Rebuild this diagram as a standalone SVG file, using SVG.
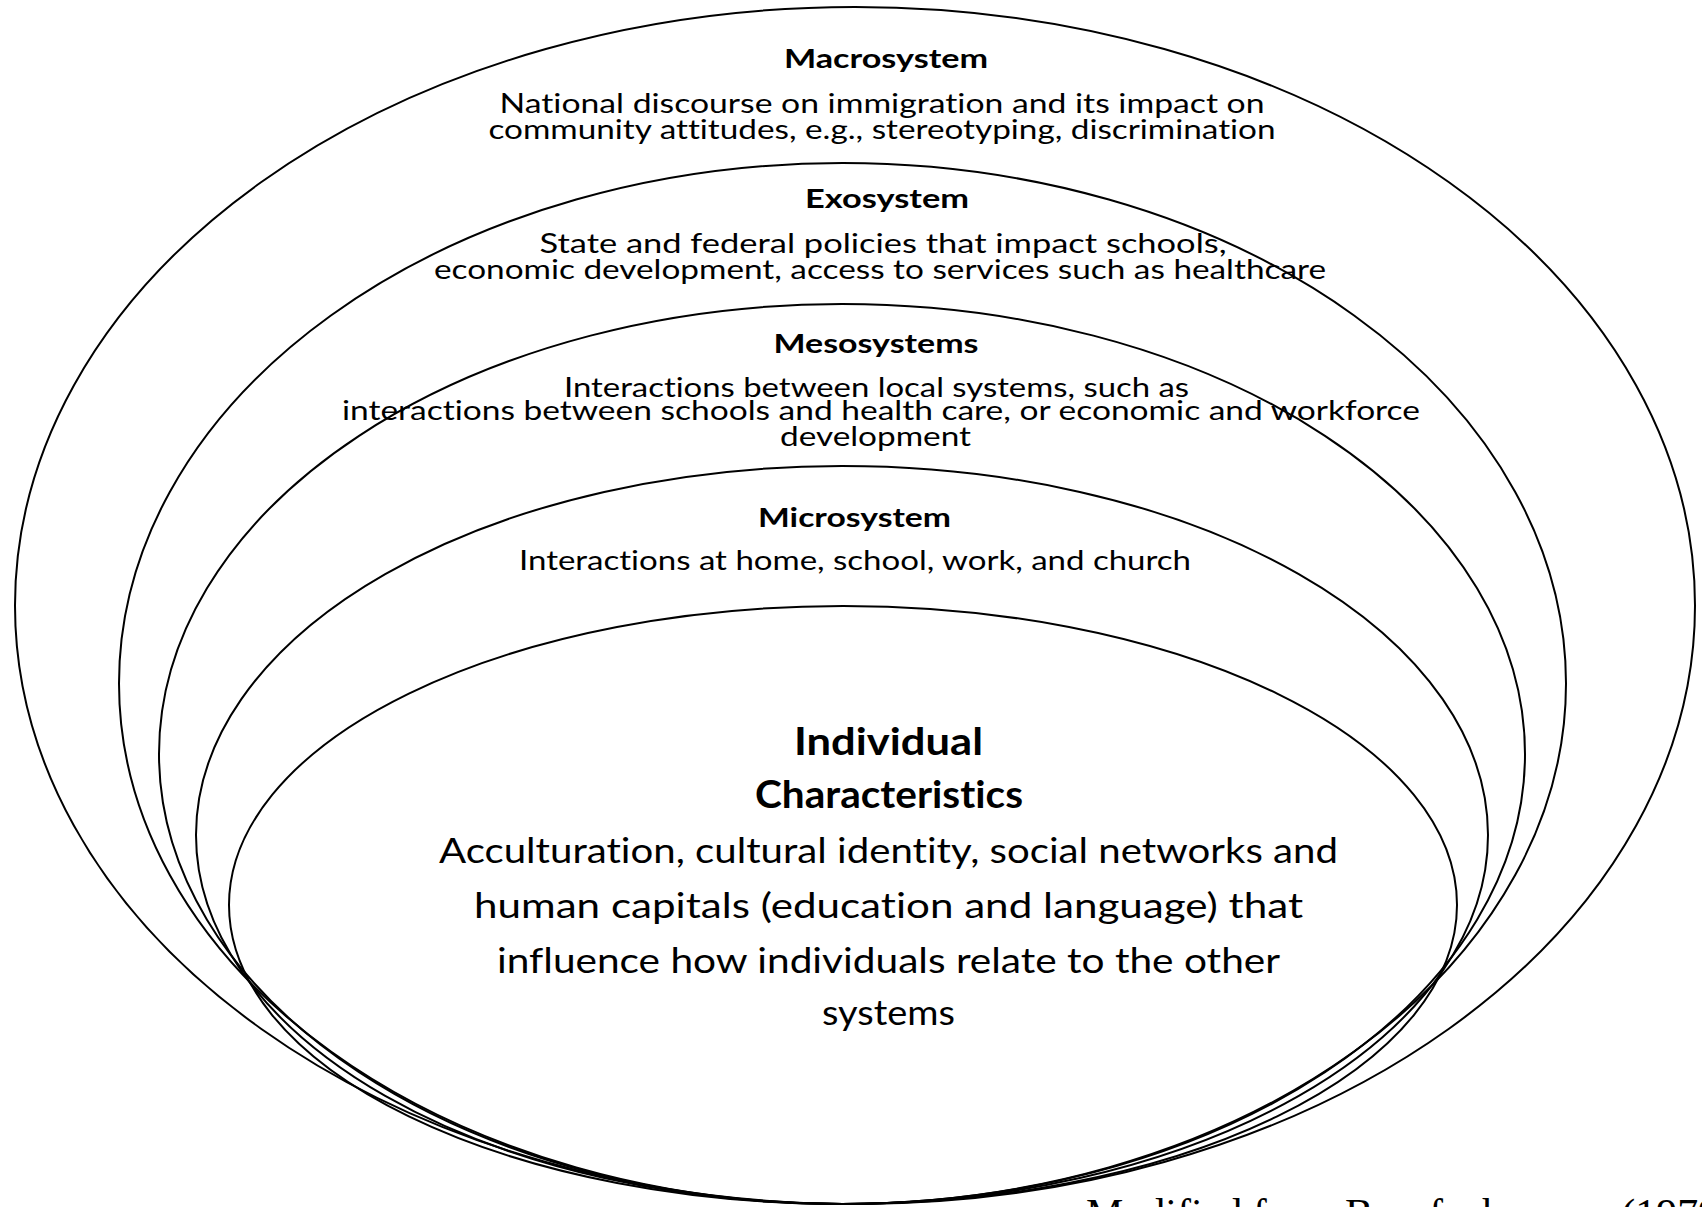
<svg xmlns="http://www.w3.org/2000/svg" width="1702" height="1207" viewBox="0 0 1702 1207">
  <style>
    text { font-variant-ligatures: none; }
    .ring { fill: none; stroke: #000; stroke-width: 2; }
    .head { font-family: Lato, "Noto Sans", "Liberation Sans", sans-serif; font-weight: 700; font-size: 26px; fill: #000; text-anchor: middle; }
    .desc { font-family: Lato, "Noto Sans", "Liberation Sans", sans-serif; font-weight: 400; font-size: 26px; fill: #000; text-anchor: middle; }
    .core-head { font-family: Lato, "Noto Sans", "Liberation Sans", sans-serif; font-weight: 700; font-size: 38px; fill: #000; text-anchor: middle; }
    .core-desc { font-family: Lato, "Noto Sans", "Liberation Sans", sans-serif; font-weight: 400; font-size: 34px; fill: #000; text-anchor: middle; }
    .cite { font-family: "Liberation Serif", "Times New Roman", serif; font-size: 42px; fill: #000; }
  </style>
  <rect width="1702" height="1207" fill="#fff"/>

  <!-- Nested ecological layers, all touching near the bottom edge -->
  <g id="macrosystem">
    <ellipse class="ring" cx="855" cy="605.5" rx="840" ry="598.5"/>
    <text class="head" x="886" y="68" textLength="204" lengthAdjust="spacingAndGlyphs">Macrosystem</text>
    <text class="desc" x="882" y="113" textLength="765" lengthAdjust="spacingAndGlyphs">National discourse on immigration and its impact on</text>
    <text class="desc" x="882" y="139" textLength="787" lengthAdjust="spacingAndGlyphs">community attitudes, e.g., stereotyping, discrimination</text>
  </g>

  <g id="exosystem">
    <ellipse class="ring" cx="842.5" cy="683.5" rx="723.5" ry="520.5"/>
    <text class="head" x="887" y="208" textLength="164" lengthAdjust="spacingAndGlyphs">Exosystem</text>
    <text class="desc" x="883" y="253" textLength="687" lengthAdjust="spacingAndGlyphs">State and federal policies that impact schools,</text>
    <text class="desc" x="880" y="279" textLength="892" lengthAdjust="spacingAndGlyphs">economic development, access to services such as healthcare</text>
  </g>

  <g id="mesosystems">
    <ellipse class="ring" cx="842" cy="754" rx="683" ry="450"/>
    <text class="head" x="876" y="353" textLength="205" lengthAdjust="spacingAndGlyphs">Mesosystems</text>
    <text class="desc" x="876.5" y="397" textLength="625" lengthAdjust="spacingAndGlyphs">Interactions between local systems, such as</text>
    <text class="desc" x="881" y="420" textLength="1078" lengthAdjust="spacingAndGlyphs">interactions between schools and health care, or economic and workforce</text>
    <text class="desc" x="875.5" y="446" textLength="191" lengthAdjust="spacingAndGlyphs">development</text>
  </g>

  <g id="microsystem">
    <ellipse class="ring" cx="842" cy="835" rx="646" ry="369"/>
    <text class="head" x="854.5" y="527" textLength="193" lengthAdjust="spacingAndGlyphs">Microsystem</text>
    <text class="desc" x="855" y="570" textLength="672" lengthAdjust="spacingAndGlyphs">Interactions at home, school, work, and church</text>
  </g>

  <g id="individual">
    <ellipse class="ring" cx="843" cy="905" rx="614" ry="299"/>
    <text class="core-head" x="888.5" y="755" textLength="189" lengthAdjust="spacingAndGlyphs">Individual</text>
    <text class="core-head" x="889" y="808" textLength="268" lengthAdjust="spacingAndGlyphs">Characteristics</text>
    <text class="core-desc" x="888.5" y="863" textLength="899" lengthAdjust="spacingAndGlyphs">Acculturation, cultural identity, social networks and</text>
    <text class="core-desc" x="888.5" y="918" textLength="829" lengthAdjust="spacingAndGlyphs">human capitals (education and language) that</text>
    <text class="core-desc" x="888.5" y="973" textLength="783" lengthAdjust="spacingAndGlyphs">influence how individuals relate to the other</text>
    <text class="core-desc" x="888.5" y="1025" textLength="133" lengthAdjust="spacingAndGlyphs">systems</text>
  </g>

  <!-- Source note, running past the lower edge -->
  <text id="citation" class="cite" x="1086" y="1228">Modified from Bronfenbrenner (1979)</text>
</svg>
